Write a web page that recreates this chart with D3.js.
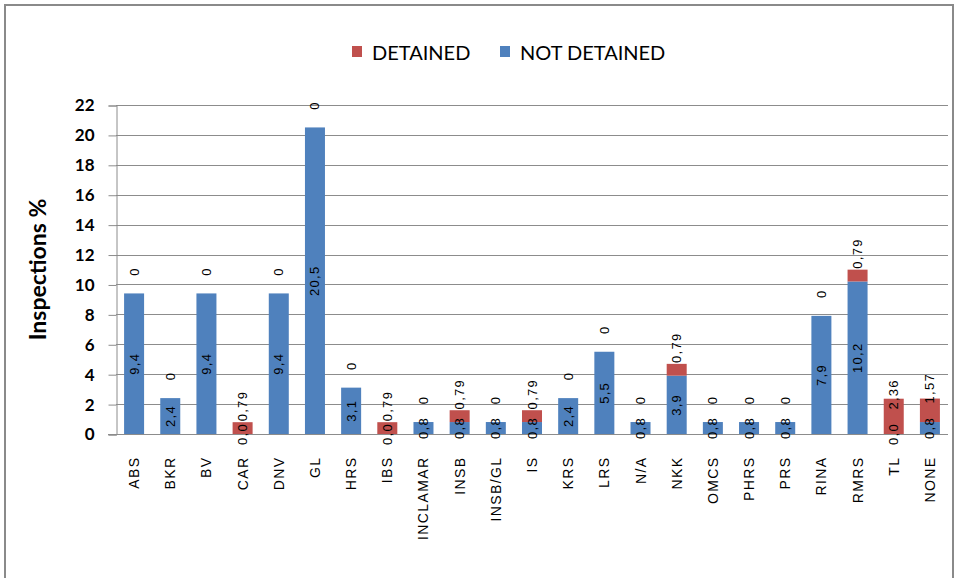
<!DOCTYPE html>
<html>
<head>
<meta charset="utf-8">
<script src="https://cdn.jsdelivr.net/npm/d3@7"></script>
<style>
  html, body { margin: 0; padding: 0; background: #fff; }
  svg { display: block; }
</style>
</head>
<body>
<svg id="chart" width="958" height="578"></svg>
<script>
const categories = ["ABS","BKR","BV","CAR","DNV","GL","HRS","IBS","INCLAMAR","INSB","INSB/GL","IS","KRS","LRS","N/A","NKK","OMCS","PHRS","PRS","RINA","RMRS","TL","NONE"];
const notDetained = [9.4,2.4,9.4,0,9.4,20.5,3.1,0,0.8,0.8,0.8,0.8,2.4,5.5,0.8,3.9,0.8,0.8,0.8,7.9,10.2,0,0.8];
const detained    = [0,0,0,0.79,0,0,0,0.79,0,0.79,0,0.79,0,0,0,0.79,0,0,0,0,0.79,2.36,1.57];
const yTicks = [0,2,4,6,8,10,12,14,16,18,20,22];
const seriesNames = ["DETAINED","NOT DETAINED"];
const yTitle = "Inspections %";

const colors = {"NOT DETAINED": "#4F81BD", "DETAINED": "#C0504D"};

const svg = d3.select("#chart");
const margin = {left: 116, right: 10, top: 105, bottom: 144};
const x0 = 116, x1 = 948, y0 = 434, y1 = 105;

// frame
svg.append("rect").attr("x", 5).attr("y", 5).attr("width", 948).attr("height", 620)
  .attr("fill", "#fff").attr("stroke", "#8a8a8a").attr("stroke-width", 2);

const x = d3.scaleBand().domain(categories).range([x0, x1]).paddingInner(0.447).paddingOuter(0.2235);
const y = d3.scaleLinear().domain([0, 22]).range([y0, y1]);

// gridlines
svg.append("g").selectAll("line").data(yTicks.filter(t => t > 0)).join("line")
  .attr("x1", x0).attr("x2", x1)
  .attr("y1", d => Math.round(y(d)) + 0.5).attr("y2", d => Math.round(y(d)) + 0.5)
  .attr("stroke", "#8c8c8c").attr("stroke-width", 1);

// y axis
const yAxis = svg.append("g").attr("transform", `translate(${x0 + 0.5},0.5)`)
  .call(d3.axisLeft(y).tickValues(yTicks).tickSize(8).tickPadding(14).tickFormat(d3.format("d")));
yAxis.select(".domain").attr("stroke", "#8c8c8c");
yAxis.selectAll(".tick line").attr("stroke", "#8c8c8c");
yAxis.selectAll(".tick text").attr("font-family", "Lato, 'Open Sans', sans-serif")
  .attr("font-weight", "bold").attr("font-size", 17).attr("fill", "#000");

// x axis
const xAxis = svg.append("g").attr("transform", `translate(0,${y0 + 0.5})`)
  .call(d3.axisBottom(x).tickSize(0).tickPadding(0));
xAxis.select(".domain").attr("d", `M${x0 - 8},0H${x1}`).attr("stroke", "#8c8c8c");
xAxis.selectAll(".tick text")
  .attr("font-family", "'Liberation Sans', Arial, sans-serif").attr("font-size", 14)
  .attr("letter-spacing", "1.4px").attr("fill", "#000")
  .attr("text-anchor", "end").attr("dy", null).attr("y", 0)
  .attr("transform", "translate(0,22) rotate(-90)")
  .attr("dominant-baseline", "central");

// stacked data
const rows = categories.map((c, i) => ({cat: c, "NOT DETAINED": notDetained[i], "DETAINED": detained[i]}));
const stack = d3.stack().keys(["NOT DETAINED", "DETAINED"])(rows);

const gBars = svg.append("g");
stack.forEach(layer => {
  gBars.append("g").attr("fill", colors[layer.key]).selectAll("rect").data(layer).join("rect")
    .attr("x", d => x(d.data.cat)).attr("width", x.bandwidth())
    .attr("y", d => y(d[1])).attr("height", d => y(d[0]) - y(d[1]));
});

// data labels
const fmtBlue = v => d3.format(".1f")(v).replace(".", ",");
const fmtRed = v => String(v).replace(".", ",");
const gLab = svg.append("g").attr("font-family", "'Liberation Sans', Arial, sans-serif")
  .attr("font-size", 13).attr("letter-spacing", "1.3px").attr("fill", "#000");
stack.forEach(layer => {
  const isRed = layer.key === "DETAINED";
  gLab.append("g").selectAll("text").data(layer).join("text")
    .attr("transform", d => {
      const cx = x(d.data.cat) + x.bandwidth() / 2;
      const cy = (y(d[0]) + y(d[1])) / 2 - (isRed ? 22 : 0);
      return `translate(${cx},${cy}) rotate(-90)`;
    })
    .attr("text-anchor", "middle").attr("dominant-baseline", "central")
    .text(d => isRed ? fmtRed(d.data[layer.key]) : fmtBlue(d.data[layer.key]));
});

// y title
svg.append("text").attr("transform", `translate(37,${(y0 + y1) / 2}) rotate(-90)`)
  .attr("text-anchor", "middle").attr("dominant-baseline", "central")
  .attr("font-family", "Lato, 'Open Sans', sans-serif").attr("font-weight", "bold")
  .attr("font-size", 23).attr("fill", "#000").text(yTitle);

// legend
const legendX = [352, 500];
const gLeg = svg.append("g");
seriesNames.forEach((s, i) => {
  gLeg.append("rect").attr("x", legendX[i]).attr("y", 46).attr("width", 10).attr("height", 11)
    .attr("fill", colors[s]);
  gLeg.append("text").attr("x", legendX[i] + 20).attr("y", 52)
    .attr("dominant-baseline", "central")
    .attr("font-family", "Lato, 'Open Sans', sans-serif").attr("font-size", 20)
    .attr("fill", "#000").text(s);
});
</script>
</body>
</html>
